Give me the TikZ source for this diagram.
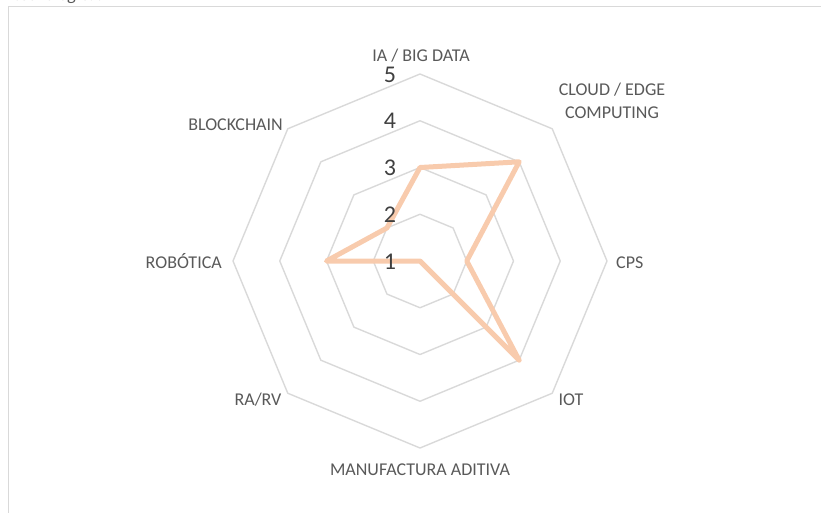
\documentclass[tikz,border=0pt]{standalone}
\usepackage{fontspec}
\setmainfont{Carlito}
\definecolor{gridgray}{HTML}{D9D9D9}
\definecolor{labelgray}{HTML}{595959}
\definecolor{numgray}{HTML}{404040}
\definecolor{peach}{HTML}{F8CBAD}
\begin{document}
\begin{tikzpicture}[x=1pt,y=-1pt,
  gridline/.style={draw=gridgray,line width=1.4pt,line join=round},
  series/.style={draw=peach,line width=5pt,line join=round,line cap=round},
  catlabel/.style={text=labelgray,font=\fontsize{18}{23}\selectfont,inner sep=0pt,align=center,anchor=base},
  numlabel/.style={text=numgray,font=\fontsize{24}{26}\selectfont,inner sep=0pt,anchor=base}
]
\useasboundingbox (0,0) rectangle (821,512);
% frame
\draw[gridgray,line width=1.4pt] (8.7,530) -- (8.7,6.6) -- (840,6.6);
% cut-off caption text at top
\node[anchor=base west,inner sep=0pt,text=labelgray,font=\itshape\fontsize{18}{20}\selectfont] (cap) at (14,0.3) {tecnológica.};
% grid octagons
\foreach \k in {1,2,3,4}{
  \pgfmathsetmacro{\rr}{46.75*\k}
  \draw[gridline,shift={(420,261)}] (-90:\rr) -- (-45:\rr) -- (0:\rr) -- (45:\rr) -- (90:\rr) -- (135:\rr) -- (180:\rr) -- (225:\rr) -- cycle;
}
% data points
\begin{scope}[shift={(420,261)}]
\coordinate (d1) at (-90:93.5);
\coordinate (d2) at (-45:140.25);
\coordinate (d3) at (0:46.75);
\coordinate (d4) at (45:140.25);
\coordinate (d5) at (0,0);
\coordinate (d6) at (0,0);
\coordinate (d7) at (180:93.5);
\coordinate (d8) at (225:46.75);
\end{scope}
\draw[series] (d1) -- (d2) -- (d3) -- (d4) -- (d5) -- (d6) -- (d7) -- (d8) -- cycle;
% axis numbers
\node[numlabel] (n1) at (390,269) {1};
\node[numlabel] (n2) at (390,222.25) {2};
\node[numlabel] (n3) at (390,175.5) {3};
\node[numlabel] (n4) at (390,128.75) {4};
\node[numlabel] (n5) at (390,82) {5};
% category labels
\node[catlabel] (lia) at (421,61) {IA / BIG DATA};
\node[catlabel] (lcloud) at (612,118) {CLOUD / EDGE\\COMPUTING};
\node[catlabel,anchor=base west] (lcps) at (616,268) {CPS};
\node[catlabel] (liot) at (571,405) {IOT};
\node[catlabel] (lman) at (420,475) {MANUFACTURA ADITIVA};
\node[catlabel] (lra) at (258,405) {RA/RV};
\node[catlabel,anchor=base east] (lrob) at (222,268) {ROBÓTICA};
\node[catlabel,anchor=base east] (lblock) at (283,130) {BLOCKCHAIN};
\end{tikzpicture}
\end{document}
